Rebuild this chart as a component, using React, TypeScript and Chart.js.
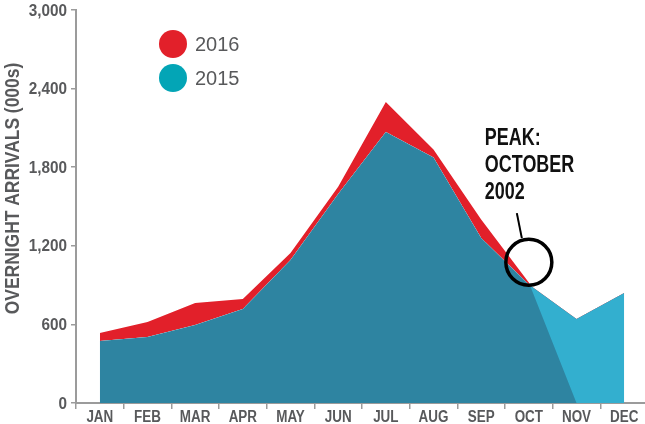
import React, { useEffect, useRef } from 'react';
import { Chart, registerables } from 'chart.js';

Chart.register(...registerables);

const months = ['JAN', 'FEB', 'MAR', 'APR', 'MAY', 'JUN', 'JUL', 'AUG', 'SEP', 'OCT', 'NOV', 'DEC'];
const arrivals2016 = [534, 619, 763, 794, 1145, 1650, 2298, 1935, 1400, 920, 0, 0];
const arrivals2015 = [473, 504, 595, 718, 1092, 1595, 2069, 1874, 1260, 905, 641, 840];
const yTickValues = [0, 600, 1200, 1800, 2400, 3000];
const seriesLabels = ['2016', '2015'];
const yTitle = 'OVERNIGHT ARRIVALS (000s)';
const peakNote = ['PEAK:', 'OCTOBER', '2002'];
const peakMonth = 'OCT';
const peakCircleValue = 1075;

const RED = '#E2202A';
const TEAL = '#2E84A1';
const CYAN = '#33AFCF';
const LEGEND_CYAN = '#03A5B6';
const GREY = '#58595B';
const AXIS = '#9B9B9B';
const SANS = "'Liberation Sans', Arial, sans-serif";

function narrowText(ctx: CanvasRenderingContext2D, text: string, x: number, y: number, sx: number) {
  ctx.save();
  ctx.translate(x, y);
  ctx.scale(sx, 1);
  ctx.fillText(text, 0, 0);
  ctx.restore();
}

export default function App() {
  const ref = useRef<HTMLCanvasElement>(null);

  useEffect(() => {
    if (!ref.current) return;
    const overlay = {
      id: 'overlay',
      afterDraw(chart: any) {
        const ctx = chart.ctx as CanvasRenderingContext2D;
        const xs = chart.scales.x;
        const ys = chart.scales.y;
        const area = chart.chartArea;

        // tick labels
        ctx.save();
        ctx.fillStyle = GREY;
        ctx.font = `bold 17px ${SANS}`;
        ctx.textAlign = 'right';
        ctx.textBaseline = 'middle';
        yTickValues.forEach((v) => {
          narrowText(ctx, v.toLocaleString('en-US'), area.left - 9, ys.getPixelForValue(v) + 1, 0.9);
        });
        ctx.font = `bold 16px ${SANS}`;
        ctx.textAlign = 'center';
        months.forEach((m, i) => {
          narrowText(ctx, m, xs.getPixelForValue(i), area.bottom + 15, 0.84);
        });
        ctx.restore();

        // y-axis title
        ctx.save();
        ctx.translate(13, (area.top + area.bottom) / 2 - 18);
        ctx.rotate(-Math.PI / 2);
        ctx.fillStyle = GREY;
        ctx.font = `bold 21px ${SANS}`;
        ctx.textAlign = 'center';
        ctx.textBaseline = 'middle';
        narrowText(ctx, yTitle, 0, 0, 0.83);
        ctx.restore();

        // legend
        ctx.save();
        const legendColors = [RED, LEGEND_CYAN];
        seriesLabels.forEach((lab, i) => {
          const cx = area.left + 97;
          const cy = 44 + i * 34;
          ctx.beginPath();
          ctx.arc(cx, cy, 14, 0, Math.PI * 2);
          ctx.fillStyle = legendColors[i];
          ctx.fill();
          ctx.fillStyle = GREY;
          ctx.font = `20px ${SANS}`;
          ctx.textAlign = 'left';
          ctx.textBaseline = 'middle';
          ctx.fillText(lab, cx + 22, cy + 1);
        });
        ctx.restore();

        // peak annotation
        const idx = months.indexOf(peakMonth);
        const cx = xs.getPixelForValue(idx);
        const cy = ys.getPixelForValue(peakCircleValue);
        ctx.save();
        ctx.strokeStyle = '#000';
        ctx.lineWidth = 3.5;
        ctx.beginPath();
        ctx.arc(cx, cy, 23, 0, Math.PI * 2);
        ctx.stroke();
        ctx.lineWidth = 2;
        ctx.beginPath();
        ctx.moveTo(cx - 12, cy - 49);
        ctx.lineTo(cx - 7, cy - 24);
        ctx.stroke();
        ctx.fillStyle = '#111';
        ctx.font = `bold 23px ${SANS}`;
        ctx.textAlign = 'left';
        ctx.textBaseline = 'alphabetic';
        peakNote.forEach((t, i) => {
          narrowText(ctx, t, cx - 44, cy - 117 + i * 27, 0.78);
        });
        ctx.restore();
      },
    };

    const hiddenTicks = { color: 'rgba(0,0,0,0)', font: { size: 2 } };

    const chart = new Chart(ref.current, {
      type: 'line',
      data: {
        labels: months,
        datasets: [
          {
            label: seriesLabels[0],
            data: arrivals2016,
            borderWidth: 0,
            borderColor: 'rgba(0,0,0,0)',
            backgroundColor: RED,
            pointRadius: 0,
            pointHoverRadius: 0,
            tension: 0,
            fill: { target: 1, above: RED, below: CYAN },
          },
          {
            label: seriesLabels[1],
            data: arrivals2015,
            borderWidth: 0,
            borderColor: 'rgba(0,0,0,0)',
            backgroundColor: TEAL,
            pointRadius: 0,
            pointHoverRadius: 0,
            tension: 0,
            fill: { target: 'origin', above: TEAL, below: TEAL },
          },
        ],
      },
      options: {
        animation: false,
        responsive: true,
        maintainAspectRatio: false,
        layout: { padding: { left: 0, right: 12, top: 10, bottom: 0 } },
        plugins: { legend: { display: false }, tooltip: { enabled: false } },
        scales: {
          x: {
            offset: true,
            grid: { offset: true, drawOnChartArea: false, drawTicks: true, tickLength: 6, color: AXIS, lineWidth: 1.5 },
            border: { color: AXIS, width: 2 },
            ticks: { ...hiddenTicks, padding: 0, maxRotation: 0, autoSkip: false },
            afterFit: (s: any) => { s.height = 21; },
          },
          y: {
            min: 0,
            max: 3000,
            grid: { drawOnChartArea: false, drawTicks: true, tickLength: 5, color: AXIS, lineWidth: 1.5 },
            border: { color: AXIS, width: 2 },
            ticks: { ...hiddenTicks, stepSize: 600, padding: 4 },
            afterFit: (s: any) => { s.width = 76; },
          },
        },
      },
      plugins: [overlay],
    });
    return () => chart.destroy();
  }, []);

  return (
    <div style={{ position: 'fixed', left: 0, top: 0, width: 645, height: 424, overflow: 'hidden', background: '#fff' }}>
      <div style={{ position: 'relative', width: 660, height: 424 }}>
        <canvas ref={ref} />
      </div>
    </div>
  );
}
